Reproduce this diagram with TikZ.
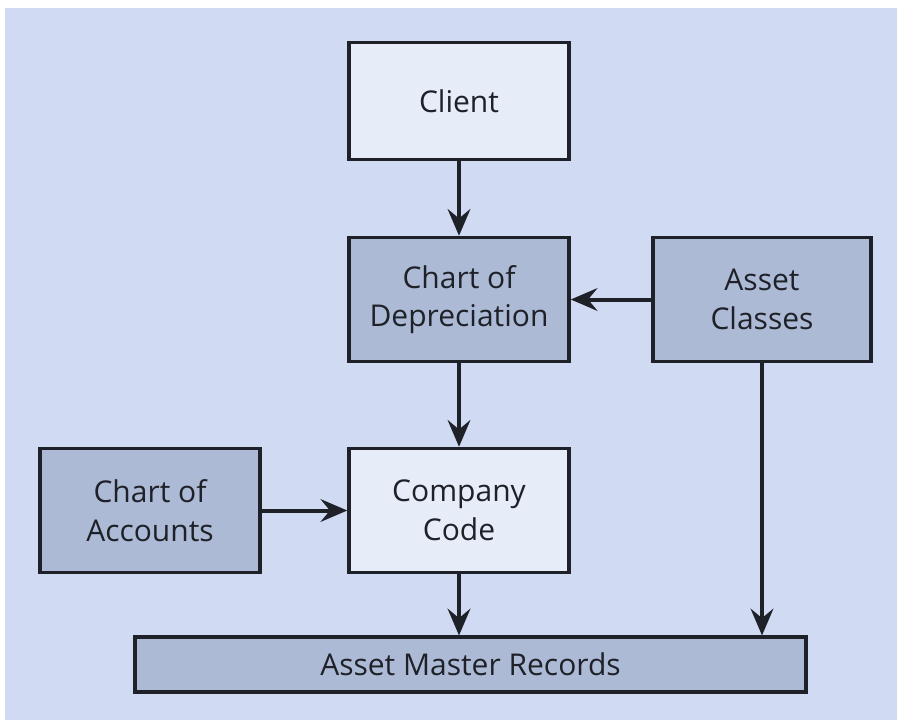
\documentclass[tikz,border=0pt]{standalone}
\usepackage{fontspec}
\setmainfont{Open Sans}
\usetikzlibrary{arrows.meta}
\definecolor{bgblue}{HTML}{D0DAF3}
\definecolor{lightbox}{HTML}{E6ECF8}
\definecolor{darkbox}{HTML}{ADBAD6}
\definecolor{inkline}{HTML}{1E2128}
\tikzset{
  box/.style={draw=inkline, line width=2.6pt, align=center, text=inkline,
    minimum width=165pt, minimum height=93pt, inner sep=2pt,
    font=\fontsize{22.5}{29}\selectfont},
  lightnode/.style={box, fill=lightbox},
  darknode/.style={box, fill=darkbox},
  flow/.style={draw=inkline, line width=3pt, -{Stealth[length=20pt,width=17pt,inset=7pt]}}
}
\begin{document}
\begin{tikzpicture}[x=0.75pt,y=-0.75pt]
  \useasboundingbox (0,0) rectangle (909,724);
  %%%%% BACKGROUND %%%%%
  \fill[bgblue] (5,8) rectangle (897,720);

  %%%%% BOXES %%%%%
  \node[lightnode, minimum height=88pt] (client) at (459,101) {Client};
  \node[darknode] (cod) at (459,299.5) {Chart of\\Depreciation};
  \node[darknode, minimum width=163.5pt] (classes) at (762,299.5) {Asset\\Classes};
  \node[darknode] (coa) at (150,510.5) {Chart of\\Accounts};
  \node[lightnode] (cc) at (459,510.5) {Company\\Code};
  \node[darknode, minimum width=503pt, minimum height=41pt] (amr) at (470.5,664.5) {Asset Master Records};

  %%%%% ARROWS %%%%%
  \draw[flow] (client) -- (cod);
  \draw[flow] (classes) -- (cod);
  \draw[flow] (cod) -- (cc);
  \draw[flow] (coa) -- (cc);
  \draw[flow] (cc) -- (cc |- amr.north);
  \draw[flow] (classes) -- (classes |- amr.north);
\end{tikzpicture}
\end{document}
